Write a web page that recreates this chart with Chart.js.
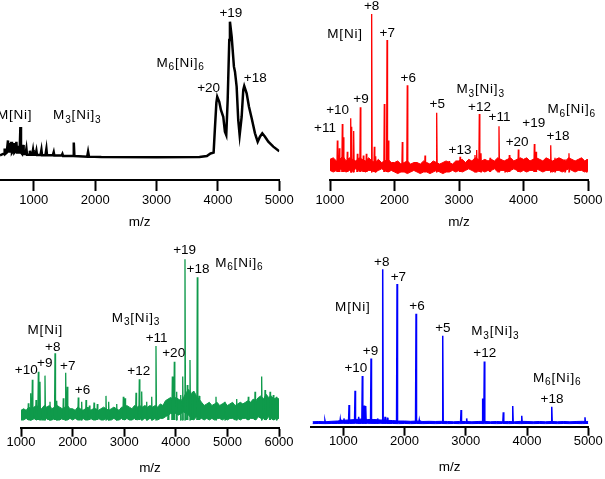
<!DOCTYPE html>
<html>
<head>
<meta charset="utf-8">
<script src="https://cdn.jsdelivr.net/npm/chart.js@4.4.1/dist/chart.umd.min.js"></script>
<style>
  body { margin: 0; background: #fff; }
  #wrap { position: relative; width: 605px; height: 479px; }
  canvas { position: absolute; }
</style>
</head>
<body>
<div id="wrap">
  <canvas id="panel-a" width="300" height="235" style="left:0;top:0"></canvas>
  <canvas id="panel-b" width="303" height="235" style="left:302px;top:0"></canvas>
  <canvas id="panel-c" width="300" height="239" style="left:0;top:240px"></canvas>
  <canvas id="panel-d" width="303" height="239" style="left:302px;top:240px"></canvas>
</div>
<script>
// ═══════════════════════════════════════════════════
//  Mass spectra — four panels
// ═══════════════════════════════════════════════════

// ── Panel A (black) : traced profile ───────────────
const blackX = [450, 500, 520, 526, 535, 560, 580, 590, 608, 618, 635, 645, 660, 673, 683, 700, 717, 727, 743, 752,
  770, 782, 792, 810, 825, 835, 865, 880, 890, 925, 937, 947, 975, 988, 998, 1030, 1043, 1053, 1110, 1125,
  1135, 1190, 1206, 1216, 1310, 1325, 1335, 1455, 1467, 1477, 1640, 1652, 1662, 1870, 1885, 1900, 2100, 3000, 3700, 3820,
  3880, 3930, 3950, 3975, 3989, 4022, 4049, 4087, 4114, 4136, 4159, 4185, 4196, 4224, 4261, 4278, 4305, 4331, 4354, 4387,
  4413, 4429, 4468, 4506, 4550, 4604, 4648, 4685, 4723, 4767, 4821, 4902, 5000];
const blackY = [1, 2, 2, 6, 2, 3, 12, 3, 10, 3, 11, 3, 4, 10, 3, 4, 11, 3, 8, 3,
  3, 22, 3, 2, 8.7, 2, 2, 6, 1.5, 1.5, 4.4, 1.5, 1.5, 5, 1.5, 1.5, 4.4, 1.2, 1.2, 5,
  1, 1, 5.7, 1, 1, 3.3, 0.8, 0.8, 2, 0.5, 0.5, 10.4, 0.5, 0, 3.7, 0, -0.3, -0.5, -0.3, 0.5,
  2.4, 3, 20, 40, 44.4, 40.7, 34.6, 29.6, 18.5, 16, 42, 86.4, 100, 88.9, 66.7, 63, 51.9, 27.2, 16, 29.6,
  49.4, 52.4, 47, 37, 28.4, 17.3, 11.1, 14.8, 17.3, 14.8, 11.1, 7.4, 4];
const blackLabels = [
  ['M[Ni]', 689, 27.7], ['M_3[Ni]_3', 1709, 27.7], ['M_6[Ni]_6', 3392, 66.7],
  ['+20', 3849, 48.1], ['+19', 4212, 103.3], ['+18', 4609, 55.6],
];

// ── Panel B (red) ──────────────────────────────────
const redPeakX = [1114, 1145, 1191, 1207, 1268, 1321, 1336, 1367, 1424, 1470, 1517, 1563, 1646, 1687, 1708, 1842, 1884, 1904, 2121, 2198,
  2473, 2654, 2845, 3016, 3248, 3274, 3315, 3341, 3481, 3620, 3713, 3780, 3920, 4168, 4194, 4422, 4488, 4643, 4705, 4980];
const redPeakY = [20, 15, 30.4, 22, 12.8, 34, 28.7, 26, 11.6, 41, 10.5, 11.6, 100, 16, 10, 43, 83.5, 20, 19, 55,
  10.5, 37.5, 7, 9.7, 10.8, 14, 36.7, 11.8, 9, 29, 7, 10.8, 14.3, 17.7, 12.8, 17, 9, 8, 11.8, 8];
const redNoiseX = [1000, 1050, 1100, 1150, 1200, 1250, 1300, 1350, 1400, 1450, 1500, 1550, 1600, 1650, 1700, 1750, 1800, 1850, 1900, 1950,
  2000, 2050, 2100, 2150, 2200, 2250, 2300, 2350, 2400, 2450, 2500, 2550, 2600, 2650, 2700, 2750, 2800, 2850, 2900, 2950,
  3000, 3050, 3100, 3150, 3200, 3250, 3300, 3350, 3400, 3450, 3500, 3550, 3600, 3650, 3700, 3750, 3800, 3850, 3900, 3950,
  4000, 4050, 4100, 4150, 4200, 4250, 4300, 4350, 4400, 4450, 4500, 4550, 4600, 4650, 4700, 4750, 4800, 4850, 4900, 4950, 5000];
const redNoiseHi = [8, 9, 7, 8, 10, 7, 9, 8, 7, 9, 8, 7, 9, 7, 6, 8, 6, 7, 8, 6,
  6, 7, 5, 6, 7, 5, 6, 6, 5, 7, 6, 5, 7, 6, 5, 6, 7, 6, 5, 7,
  7, 8, 6, 8, 7, 9, 8, 7, 8, 7, 8, 7, 9, 8, 7, 8, 9, 7, 8, 9,
  8, 9, 7, 8, 9, 8, 7, 9, 8, 7, 8, 9, 8, 7, 9, 8, 7, 8, 9, 7, 8];
const redNoiseLo = [1, 0, 1, 2, 1, 0, 1, 1, 2, 1, 1, 0, 1, 1, 0, 1, 2, 1, 0, 1,
  0, -1, 0, 0, -1, 0, 1, 0, -1, 0, 0, -1, 0, 1, 0, -1, 0, 0, 1, 0,
  1, 0, 1, 2, 1, 0, 1, 1, 0, 1, 1, 2, 0, 1, 1, 0, 1, 2, 1, 0,
  1, 0, 1, 1, 2, 1, 0, 1, 1, 0, 1, 1, 0, 1, 2, 1, 0, 1, 1, 0, 1];
const redLabels = [
  ['+8', 1646, 102.5], ['M[Ni]', 1233, 84.6], ['+7', 1887, 85.2], ['+6', 2214, 57.2],
  ['+9', 1481, 43.5], ['+10', 1119, 36.5], ['+11', 922, 25.1], ['+5', 2662, 40.3],
  ['+13', 3016, 11.4], ['M_3[Ni]_3', 3336, 49.8], ['+12', 3318, 38.8], ['+11', 3628, 32.3],
  ['M_6[Ni]_6', 4747, 37.1], ['+19', 4160, 28.7], ['+20', 3902, 16.6], ['+18', 4535, 20.3],
];

// ── Panel C (green) ────────────────────────────────
const greenPeakX = [1142, 1188, 1220, 1291, 1336, 1368, 1465, 1529, 1562, 1659, 1692, 1820, 1866, 1897, 2110, 2176, 2260, 2326, 2415, 2479,
  2647, 2699, 2855, 2983, 3016, 3229, 3293, 3339, 3436, 3533, 3616, 3855, 3933, 3971, 4017, 4095, 4134, 4178, 4223, 4275,
  4320, 4417, 4455, 4779, 4953, 5180, 5405, 5535, 5664, 5729, 5826, 5890, 5955];
const greenPeakY = [10.4, 16.6, 25, 12.4, 30, 23.8, 27.6, 8.3, 11.4, 41.5, 12, 13.5, 29.4, 20.7, 14, 11.4, 12.4, 9, 10.8, 10,
  15, 11.4, 10, 14.5, 13.5, 17, 25.3, 17.7, 11.4, 14.5, 46, 10.4, 27, 36.3, 17.6, 15.6, 27, 100, 21.8, 37.3,
  17.6, 88.8, 15, 14.5, 11.4, 13, 14.5, 17.6, 27, 18.7, 17.6, 15.6, 14.5];
const greenNoiseX = [1000, 1050, 1100, 1150, 1200, 1250, 1300, 1350, 1400, 1450, 1500, 1550, 1600, 1650, 1700, 1750, 1800, 1850, 1900, 1950,
  2000, 2050, 2100, 2150, 2200, 2250, 2300, 2350, 2400, 2450, 2500, 2550, 2600, 2650, 2700, 2750, 2800, 2850, 2900, 2950,
  3000, 3050, 3100, 3150, 3200, 3250, 3300, 3350, 3400, 3450, 3500, 3550, 3600, 3650, 3700, 3750, 3800, 3850, 3900, 3950,
  4000, 4050, 4100, 4150, 4200, 4250, 4300, 4350, 4400, 4450, 4500, 4550, 4600, 4650, 4700, 4750, 4800, 4850, 4900, 4950,
  5000, 5050, 5100, 5150, 5200, 5250, 5300, 5350, 5400, 5450, 5500, 5550, 5600, 5650, 5700, 5750, 5800, 5850, 5900, 5950, 6000];
const greenNoiseHi = [6, 7, 6, 8, 7, 8, 9, 8, 7, 9, 8, 9, 7, 8, 9, 8, 7, 8, 9, 7,
  7, 6, 8, 7, 6, 7, 8, 6, 7, 7, 6, 7, 8, 7, 6, 7, 8, 7, 6, 8,
  8, 9, 8, 7, 9, 8, 9, 8, 9, 8, 9, 8, 9, 8, 10, 9, 12, 13, 14, 13,
  14, 13, 12, 14, 17, 19, 16, 18, 15, 13, 11, 9, 10, 11, 9, 10, 11, 9, 10, 11,
  9, 10, 11, 9, 10, 11, 10, 11, 12, 11, 13, 12, 14, 15, 13, 16, 14, 15, 13, 14, 13];
const greenNoiseLo = [0, 0, 1, 0, 0, 1, 0, 1, 0, 0, 1, 0, 0, 1, 0, 0, 1, 0, 0, 1,
  0, 1, 0, 0, 1, 0, 0, 1, 0, 0, 1, 0, 0, 1, 0, 0, 1, 0, 0, 1,
  0, 1, 0, 0, 1, 0, 1, 0, 1, 0, 1, 0, 1, 0, 1, 1, 2, 3, 4, 4,
  4, 3, 4, 5, 4, 3, 1, 0, 2, 1, 1, 0, 1, 0, 1, 0, 1, 1, 0, 1,
  0, 1, 1, 0, 1, 0, 1, 1, 0, 1, 1, 0, 2, 1, 1, 0, 2, 1, 0, 1, 1];
const greenLabels = [
  ['M[Ni]', 1471, 53.5], ['+8', 1616, 42.9], ['+10', 1103, 28.6], ['+9', 1461, 32.8],
  ['+7', 1905, 31.1], ['+6', 2192, 16.2], ['M_3[Ni]_3', 3229, 61.2], ['+11', 3629, 48.3],
  ['+12', 3281, 28], ['+20', 3959, 39], ['+19', 4172, 103.3], ['+18', 4430, 91.3],
  ['M_6[Ni]_6', 5231, 95.4],
];

// ── Panel D (blue) ─────────────────────────────────
const bluePeakX = [700, 950, 1010, 1093, 1191, 1250, 1310, 1343, 1365, 1452, 1560, 1643, 1681, 1720, 1877, 2187, 2240, 2623, 2922, 3014,
  3275, 3302, 3612, 3766, 3913, 4403, 4946];
const bluePeakY = [1.5, 2.5, 3, 11.7, 21, 4, 30.6, 11.3, 11, 42, 3, 100, 4, 3.5, 90.4, 71, 2, 56.8, 8.5, 3,
  16, 40, 7, 11, 4.7, 10.6, 3.7];
const blueNoiseX = [500, 600, 700, 800, 900, 1000, 1100, 1200, 1300, 1400, 1500, 1600, 1700, 1800, 1900,
  2000, 2100, 2200, 2300, 2400, 2500, 2600, 2700, 2800, 2900, 3000, 3100, 3200, 3300, 3400,
  3500, 3600, 3700, 3800, 3900, 4000, 4100, 4200, 4300, 4400, 4500, 4600, 4700, 4800, 4900, 5000];
const blueNoiseHi = [0.8, 1, 0.8, 1.1, 1.3, 1.8, 2, 2.3, 2.6, 2.3, 2.3, 2, 1.8, 1.6, 1.3,
  1.3, 1.1, 1.3, 1, 1.1, 1, 1.1, 1, 0.8, 1, 1, 0.8, 1, 1.1, 0.8,
  1, 0.8, 1, 0.8, 1.1, 1, 0.8, 1, 0.8, 1, 0.8, 1, 0.8, 1, 1.1, 1];
const blueNoiseLo = [-0.4, -0.3, -0.4, -0.3, -0.3, -0.2, -0.3, -0.2, -0.3, -0.2, -0.3, -0.2, -0.3, -0.3, -0.4,
  -0.3, -0.4, -0.3, -0.4, -0.3, -0.4, -0.3, -0.4, -0.3, -0.4, -0.3, -0.4, -0.3, -0.4, -0.3,
  -0.4, -0.3, -0.4, -0.3, -0.4, -0.3, -0.4, -0.3, -0.4, -0.3, -0.4, -0.3, -0.4, -0.3, -0.4, -0.3];
const blueLabels = [
  ['+8', 1627, 102.1], ['+7', 1898, 92.6], ['M[Ni]', 1155, 73.1], ['+6', 2203, 73.5],
  ['+5', 2625, 59], ['+9', 1444, 44.2], ['+10', 1204, 33.4], ['M_3[Ni]_3', 3482, 57.3],
  ['+12', 3309, 42.7], ['M_6[Ni]_6', 4492, 26.9], ['+18', 4408, 13.2],
];

// ── Helpers ────────────────────────────────────────
const FONT = "'Liberation Sans', Arial, Helvetica, sans-serif";

function points(xs, ys) {
  return xs.map((x, i) => ({ x, y: ys[i] }));
}

// each peak becomes a narrow spike standing on the noise floor
function spikes(xs, ys, halfWidth) {
  const pts = [];
  xs.forEach((x, i) => {
    pts.push({ x: x - halfWidth, y: 0 }, { x, y: ys[i] }, { x: x + halfWidth, y: 0 }, { x: x + halfWidth, y: null });
  });
  return pts;
}

function noiseBand(xs, lo, hi, color) {
  return [
    { data: points(xs, lo), borderColor: color, borderWidth: 1, fill: false },
    { data: points(xs, hi), borderColor: color, borderWidth: 1, backgroundColor: color, fill: '-1' },
  ];
}

// text like "M_3[Ni]_3" : _d is drawn as a subscript
function drawRich(ctx, text, cx, y, size) {
  const segs = text.split(/(_\d)/).filter(Boolean)
    .map(p => p[0] === '_' ? { t: p.slice(1), sub: true } : { t: p, sub: false });
  ctx.letterSpacing = text.includes('[') ? '0.8px' : '0px';
  let total = 0;
  segs.forEach(s => {
    ctx.font = `${s.sub ? size * 0.75 : size}px ${FONT}`;
    s.w = ctx.measureText(s.t).width;
    total += s.w;
  });
  let x = cx - total / 2;
  segs.forEach(s => {
    ctx.font = `${s.sub ? size * 0.75 : size}px ${FONT}`;
    ctx.fillText(s.t, x, s.sub ? y + size * 0.28 : y);
    x += s.w;
  });
}

const peakLabels = {
  id: 'peakLabels',
  afterDatasetsDraw(chart, args, opts) {
    const { ctx, scales: { x, y } } = chart;
    ctx.save();
    ctx.fillStyle = '#000';
    ctx.textAlign = 'left';
    ctx.textBaseline = 'alphabetic';
    opts.items.forEach(([text, mz, v]) => drawRich(ctx, text, x.getPixelForValue(mz), y.getPixelForValue(v), 13.5));
    ctx.restore();
  }
};

function makePanel(id, { min, max, ticks, yMin, yMax, datasets, labels, pad, axisH, tickLen, tickPad, titlePad }) {
  new Chart(document.getElementById(id), {
    type: 'line',
    data: { datasets },
    options: {
      responsive: false,
      animation: false,
      layout: { padding: pad },
      elements: { point: { radius: 0 }, line: { tension: 0 } },
      plugins: {
        legend: { display: false },
        tooltip: { enabled: false },
        peakLabels: { items: labels },
      },
      scales: {
        x: {
          type: 'linear', min, max,
          afterBuildTicks: s => { s.ticks = ticks.map(v => ({ value: v })); },
          afterFit: s => { s.height = axisH; },   // fixed height keeps the axis line where the figure has it
          grid: { display: true, drawOnChartArea: false, drawTicks: true, tickLength: tickLen, tickWidth: 2, tickColor: '#000', color: '#000' },
          border: { display: true, color: '#000', width: 2 },
          ticks: { color: '#000', padding: tickPad, font: { family: FONT, size: 13 }, callback: v => String(v) },
          title: { display: true, text: 'm/z', color: '#000', font: { family: FONT, size: 13.5 }, padding: { top: 0, bottom: titlePad } },
        },
        y: { display: false, min: yMin, max: yMax },
      },
    },
    plugins: [peakLabels],
  });
}

// ── Build panels ───────────────────────────────────
makePanel('panel-a', {
  min: 450, max: 5000, ticks: [1000, 2000, 3000, 4000, 5000], yMin: -17.3, yMax: 116.1,
  datasets: [{ data: points(blackX, blackY), borderColor: '#000', borderWidth: 2.5 }],
  labels: blackLabels, pad: { left: 0, right: 20.7, top: 0, bottom: 0 }, axisH: 55, tickLen: 11, tickPad: 1.6, titlePad: 4.8,
});

makePanel('panel-b', {
  min: 1000, max: 5000, ticks: [1000, 2000, 3000, 4000, 5000], yMin: -5.06, yMax: 108.9,
  datasets: [
    { data: spikes(redPeakX, redPeakY, 8), borderColor: '#ff0000', borderWidth: 1.3 },
    ...noiseBand(redNoiseX, redNoiseLo, redNoiseHi, '#ff0000'),
  ],
  labels: redLabels, pad: { left: 28, right: 17, top: 0, bottom: 0 }, axisH: 55, tickLen: 11, tickPad: 1.6, titlePad: 4.8,
});

makePanel('panel-c', {
  min: 1000, max: 6000, ticks: [1000, 2000, 3000, 4000, 5000, 6000], yMin: -4.8, yMax: 112,
  datasets: [
    { data: spikes(greenPeakX, greenPeakY, 10), borderColor: '#0f9a4b', borderWidth: 1.3 },
    ...noiseBand(greenNoiseX, greenNoiseLo, greenNoiseHi, '#0f9a4b'),
  ],
  labels: greenLabels, pad: { left: 21, right: 21, top: 0, bottom: 0 }, axisH: 51.3, tickLen: 9, tickPad: -2.3, titlePad: 3,
});

makePanel('panel-d', {
  min: 472, max: 5000, ticks: [1000, 2000, 3000, 4000, 5000], yMin: -2.4, yMax: 119,
  datasets: [
    { data: spikes(bluePeakX, bluePeakY, 8), borderColor: '#0000ff', borderWidth: 1.5 },
    ...noiseBand(blueNoiseX, blueNoiseLo, blueNoiseHi, '#0000ff'),
  ],
  labels: blueLabels, pad: { left: 9, right: 16.7, top: 0, bottom: 0 }, axisH: 52.3, tickLen: 9, tickPad: -2.3, titlePad: 4,
});
</script>
</body>
</html>
